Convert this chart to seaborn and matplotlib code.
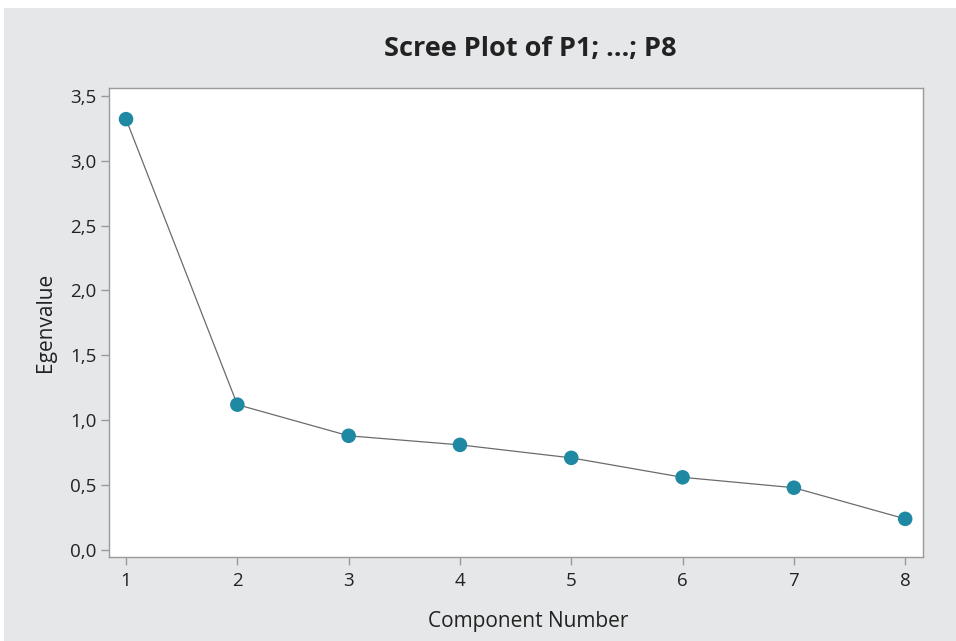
import matplotlib.pyplot as plt
import matplotlib.patches as mpatches
import matplotlib.ticker as mticker
import seaborn as sns
import pandas as pd

components = [1, 2, 3, 4, 5, 6, 7, 8]
eigenvalues = [3.32, 1.12, 0.88, 0.81, 0.71, 0.56, 0.48, 0.24]
y_ticks = [0.0, 0.5, 1.0, 1.5, 2.0, 2.5, 3.0, 3.5]

df = pd.DataFrame({"Component Number": components, "Egenvalue": eigenvalues})

sns.set_theme(style="white")
plt.rcParams["font.family"] = ["Open Sans", "DejaVu Sans"]

fig = plt.figure(figsize=(9.56, 6.41), dpi=100, facecolor="white")
# grey panel behind the chart
fig.patches.append(mpatches.Rectangle((4 / 956, 0), 1, 633 / 641, transform=fig.transFigure,
                                      facecolor="#e6e7e8", edgecolor="none", zorder=-10))
ax = fig.add_axes([109 / 956, 1 - 557 / 641, (923 - 109) / 956, (557 - 88) / 641])
ax.set_facecolor("white")

sns.lineplot(data=df, x="Component Number", y="Egenvalue", ax=ax, color="#6b6b6b",
             linewidth=0.9, zorder=2)
sns.scatterplot(data=df, x="Component Number", y="Egenvalue", ax=ax, color="#1f88a2",
                s=110, edgecolor="none", zorder=3)

ax.set_xlim(0.847, 8.16)
ax.set_ylim(-0.054, 3.56)
ax.set_xticks(components)
ax.set_yticks(y_ticks)
ax.yaxis.set_major_formatter(mticker.FuncFormatter(lambda v, p: f"{v:.1f}".replace(".", ",")))

for s in ax.spines.values():
    s.set_color("#9a9a9a")
    s.set_linewidth(1.0)
ax.tick_params(axis="both", bottom=True, left=True, direction="out", length=6, width=1,
               color="#9a9a9a", labelsize=13.5, labelcolor="#222222", pad=3)
ax.tick_params(axis="x", pad=5)

ax.set_xlabel("Component Number", fontsize=15, color="#222222")
ax.xaxis.set_label_coords((528 - 109) / 814, -0.115)
ax.set_ylabel("Egenvalue", fontsize=15, color="#222222", labelpad=10)
fig.text(530 / 956, 1 - 49 / 641, "Scree Plot of P1; \u2026; P8", ha="center", va="center",
         fontsize=19.5, fontweight="bold", color="#222222")

fig.savefig("out.png", dpi=100, facecolor=fig.get_facecolor())
